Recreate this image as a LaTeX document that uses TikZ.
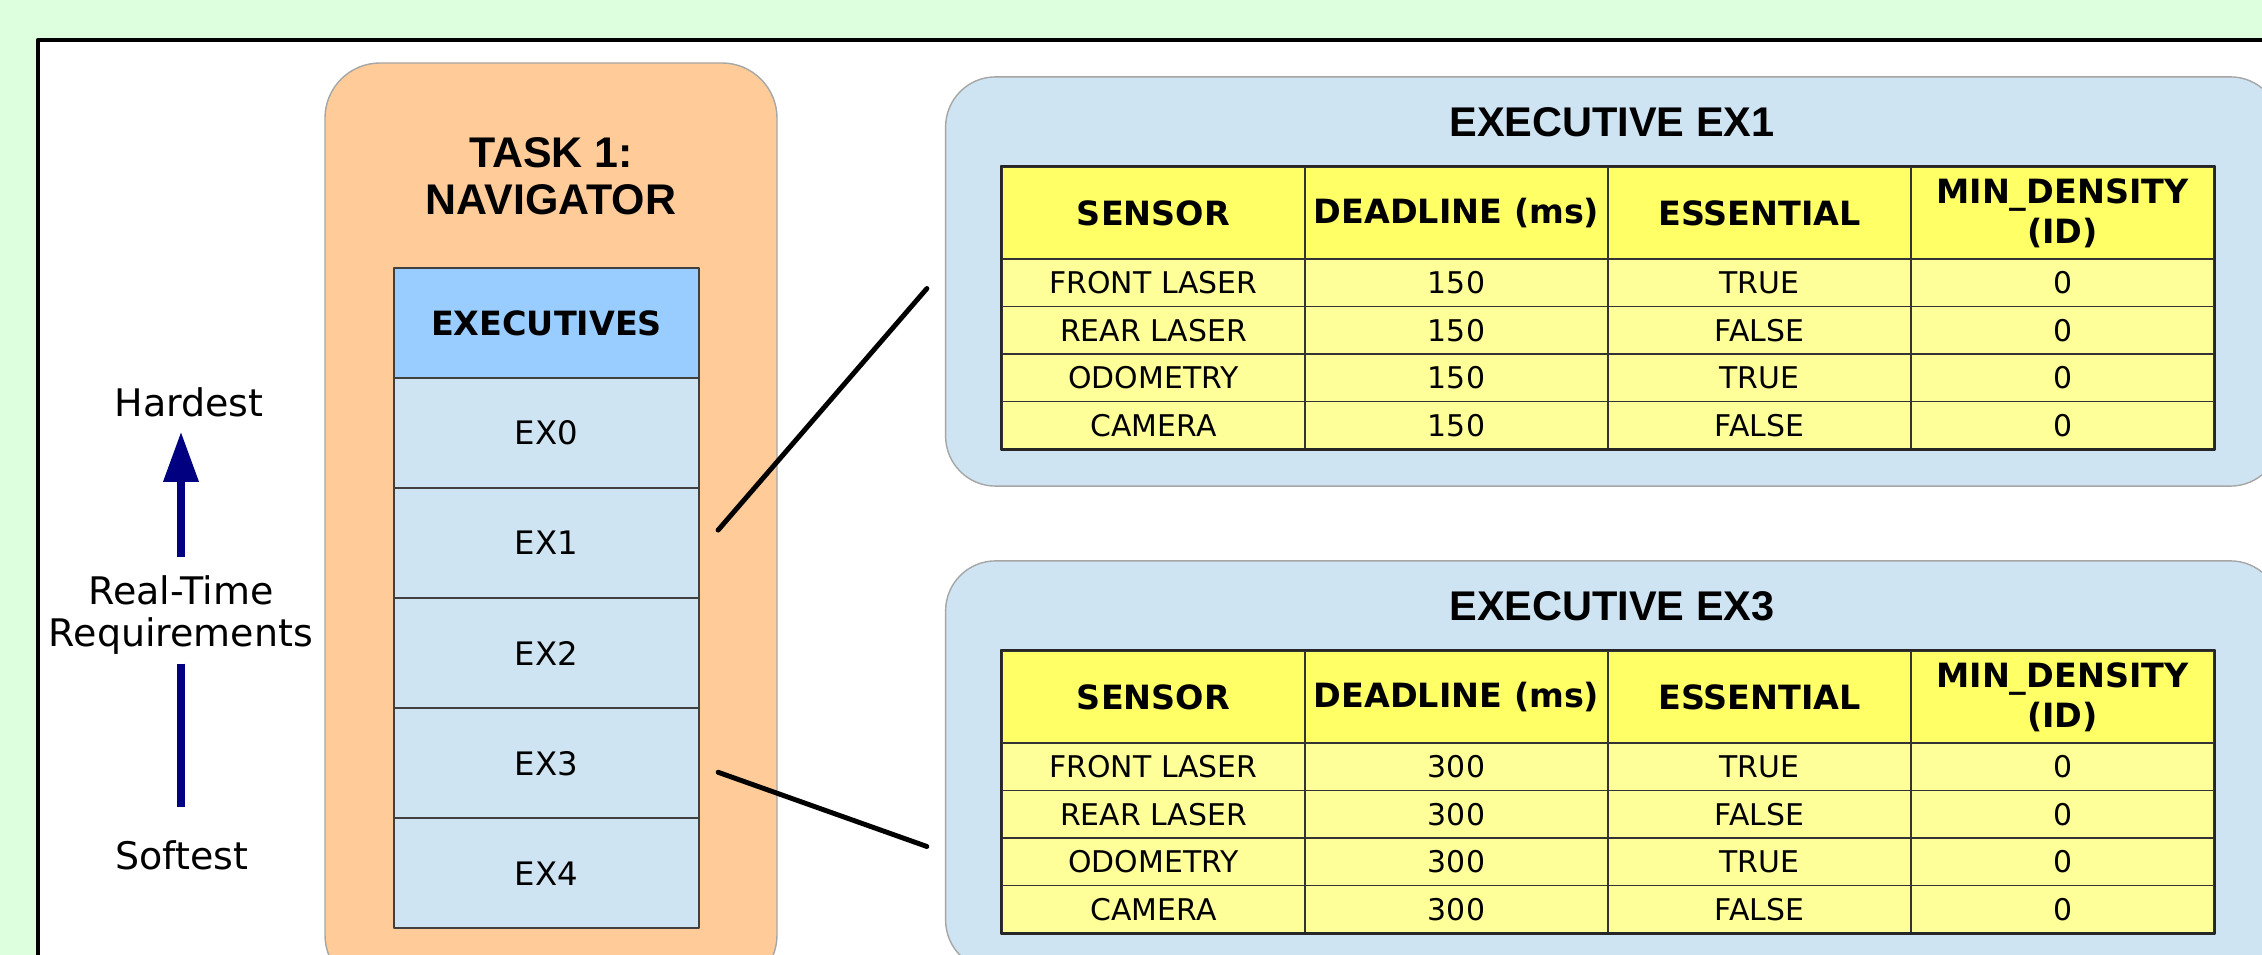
\documentclass[tikz,border=0pt]{standalone}
\usepackage{fontspec}
\setmainfont{DejaVu Sans}
\newfontfamily\headfont{Liberation Sans}
\usetikzlibrary{arrows.meta,positioning,calc}

\definecolor{bggreen}{RGB}{221,255,221}
\definecolor{taskorange}{RGB}{255,204,153}
\definecolor{headblue}{RGB}{153,204,255}
\definecolor{rowblue}{RGB}{207,228,242}
\definecolor{headyellow}{RGB}{255,255,102}
\definecolor{cellyellow}{RGB}{255,255,153}
\definecolor{arrowblue}{RGB}{0,0,128}

\tikzset{
  taskbox/.style={draw=black!35,line width=0.4pt,fill=taskorange,rounded corners=0.55cm},
  tasktitle/.style={inner sep=0pt,align=center,font=\headfont\bfseries\fontsize{12.2}{13.4}\selectfont},
  exhead/.style={draw=black!75,line width=0.5pt,fill=headblue,minimum width=3.05cm,minimum height=1.1cm,
    inner sep=0pt,outer sep=0pt,font=\bfseries\fontsize{9.5}{11}\selectfont},
  exrow/.style={exhead,fill=rowblue,font=\fontsize{9.2}{11}\selectfont},
  panel/.style={draw=black!35,line width=0.4pt,fill=rowblue,rounded corners=0.5cm,
    minimum width=13.34cm,minimum height=4.09cm,inner sep=0pt},
  paneltitle/.style={inner sep=0pt,font=\headfont\bfseries\fontsize{11.8}{13}\selectfont},
  headcell/.style={draw=black!80,line width=0.4pt,fill=headyellow,minimum width=3.03cm,minimum height=0.92cm,
    inner sep=0pt,align=center,font=\bfseries\fontsize{9.5}{11.4}\selectfont},
  cell/.style={draw=black!80,line width=0.4pt,fill=cellyellow,minimum width=3.03cm,minimum height=0.475cm,
    inner sep=0pt,font=\fontsize{8.5}{9.6}\selectfont},
  tableedge/.style={draw=black!85,line width=0.7pt},
  sidelabel/.style={inner sep=0pt,align=center,font=\fontsize{10.8}{11.7}\selectfont},
  scaleline/.style={draw=arrowblue,line width=2pt,line cap=butt},
  link/.style={line width=1.4pt},
}

\begin{document}
\begin{tikzpicture}[line cap=round,line join=round,x=0.01cm,y=-0.01cm]
\path[use as bounding box] (0,0) rectangle (2262,955);
\clip (0,0) rectangle (2262,955);
\fill[bggreen] (0,0) rectangle (2262,955);
\draw[line width=1.3pt,fill=white] (38,40) rectangle (2320,1020);
%
% hardness scale
\node[sidelabel] (hardest) at (189,402) {Hardest};
\node[sidelabel] (rtreq) at (181,615) {Real-Time\\Requirements};
\node[sidelabel] (softest) at (182,855) {Softest};
\draw[scaleline,-{Triangle[width=0.34cm,length=0.5cm]},shorten <=0.185cm,shorten >=0.145cm]
  (rtreq.north) -- (rtreq.north |- hardest.south);
\draw[scaleline,shorten <=0.09cm,shorten >=0.325cm] (rtreq.south) -- (rtreq.south |- softest.north);
%
% task and its executives
\draw[taskbox] (325,63) rectangle (777,990);
\node[tasktitle] (task) at (551,176) {TASK 1:\\NAVIGATOR};
\node[exhead] (exhead) at (546.5,323) {EXECUTIVES};
\node[exrow,below=0pt of exhead] (ex0) {EX0};
\node[exrow,below=0pt of ex0] (ex1) {EX1};
\node[exrow,below=0pt of ex1] (ex2) {EX2};
\node[exrow,below=0pt of ex2] (ex3) {EX3};
\node[exrow,below=0pt of ex3] (ex4) {EX4};
%
% executive tables
\foreach \p/\py/\dl in {1/77/150,3/561/300}{
  \node[panel] (panel\p) at (1613,\py+204.5) {};
  \node[paneltitle] (title\p) at (1612,\py+45) {EXECUTIVE EX\p};
  \foreach \h [count=\c] in {SENSOR,DEADLINE (ms),ESSENTIAL,{MIN\_DENSITY\\(ID)}}
    \node[headcell] (head\p-\c) at (850.5+303*\c,\py+136) {\h};
  \foreach \s/\e [count=\r] in {FRONT LASER/TRUE,REAR LASER/FALSE,ODOMETRY/TRUE,CAMERA/FALSE}{
    \node[cell] (cell\p-\r-1) at (1153.5,\py+158.25+47.5*\r) {\s};
    \node[cell] (cell\p-\r-2) at (1456.5,\py+158.25+47.5*\r) {\dl};
    \node[cell] (cell\p-\r-3) at (1759.5,\py+158.25+47.5*\r) {\e};
    \node[cell] (cell\p-\r-4) at (2062.5,\py+158.25+47.5*\r) {0};
  }
  \draw[tableedge] (head\p-1.north west) rectangle (cell\p-4-4.south east);
}
%
% links from executives to their tables
\draw[link] ($(ex1.east)+(19,-13)$) -- ($(panel1.west)+(-18,7)$);
\draw[link] ($(ex3.east)+(19,9)$) -- ($(panel3.west)+(-18,81)$);
\end{tikzpicture}
\end{document}
